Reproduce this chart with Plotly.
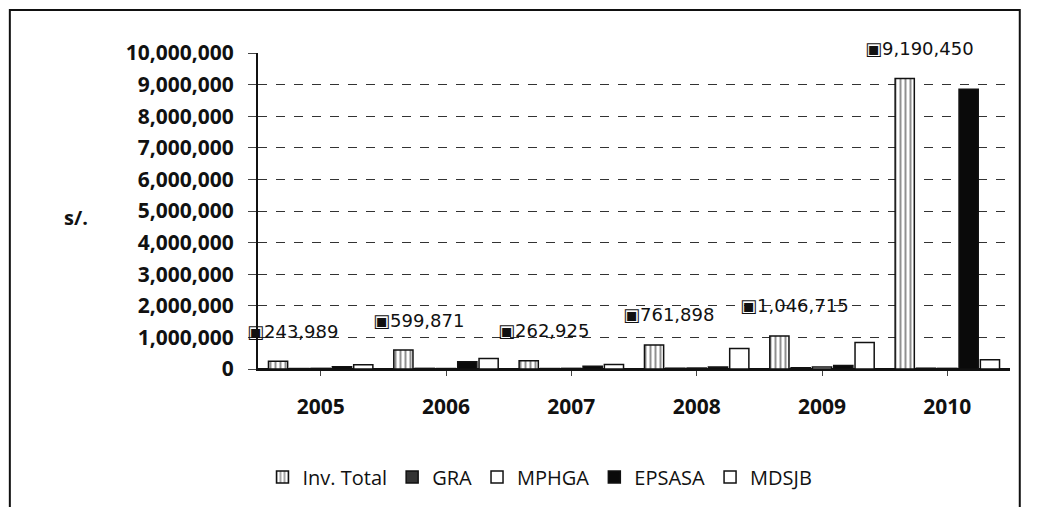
import plotly.graph_objects as go

years = ["2005", "2006", "2007", "2008", "2009", "2010"]
inv_total = [243989, 599871, 262925, 761898, 1046715, 9190450]
gra = [15000, 20000, 15000, 25000, 40000, 25000]
mphga = [20000, 15000, 20000, 30000, 60000, 20000]
epsasa = [75000, 230000, 85000, 60000, 110000, 8850000]
mdsjb = [133989, 334871, 142925, 646898, 836715, 295450]
series_names = ["Inv. Total", "GRA", "MPHGA", "EPSASA", "MDSJB"]
y_ticks = list(range(0, 10000001, 1000000))

fig = go.Figure()
line = dict(color="#111", width=1.5)
fig.add_bar(name=series_names[0], x=years, y=inv_total,
            marker=dict(color="white", line=line,
                        pattern=dict(shape="|", fgcolor="#222", bgcolor="white", size=5, solidity=0.4)))
fig.add_bar(name=series_names[1], x=years, y=gra, marker=dict(color="#333", line=line))
fig.add_bar(name=series_names[2], x=years, y=mphga, marker=dict(color="white", line=line))
fig.add_bar(name=series_names[3], x=years, y=epsasa, marker=dict(color="#0a0a0a", line=line))
fig.add_bar(name=series_names[4], x=years, y=mdsjb, marker=dict(color="white", line=line))

annotations = [dict(text="<b>s/.</b>", xref="paper", yref="paper", x=-0.26, y=0.48,
                    showarrow=False, font=dict(family="Open Sans", size=20, color="#111"))]
for i, v in enumerate(inv_total):
    annotations.append(dict(x=i, y=v, xref="x", yref="y", text="▣" + f"{v:,}",
                            showarrow=False, xshift=-28, yshift=30, yanchor="middle",
                            font=dict(family="DejaVu Sans", size=18, color="#111")))

fig.update_layout(
    width=1051, height=507,
    margin=dict(l=250, r=49, t=45, b=146),
    paper_bgcolor="white", plot_bgcolor="white",
    barmode="group", bargap=0.15, bargroupgap=0.1,
    font=dict(family="Liberation Sans", color="#111"),
    showlegend=True,
    legend=dict(orientation="h", x=0.375, xanchor="center", y=-0.342, yanchor="middle",
                font=dict(family="Open Sans", size=20, color="#111"),
                traceorder="normal"),
    shapes=[dict(type="rect", xref="paper", yref="paper", x0=-0.33, x1=1.013, y0=-0.5, y1=1.136,
                 line=dict(color="#111", width=2))],
    annotations=annotations,
)
fig.update_yaxes(range=[0, 10000000], tickvals=y_ticks, tickformat=",",
                 tickfont=dict(family="Open Sans", size=21, color="#111", weight="bold"),
                 showgrid=True, gridcolor="#333", griddash="dash", gridwidth=1,
                 showline=True, linecolor="#111", linewidth=2, ticks="outside", ticklen=8,
                 ticklabelstandoff=10,
                 zeroline=True, zerolinecolor="#111", zerolinewidth=2)
fig.update_xaxes(type="category", range=[-0.5, len(years) - 0.5],
                 tickfont=dict(family="Open Sans", size=21, color="#111", weight="bold"),
                 showline=True, linecolor="#111", linewidth=2, ticks="outside", ticklen=5,
                 ticklabelstandoff=13)

fig.write_html("out.html")
